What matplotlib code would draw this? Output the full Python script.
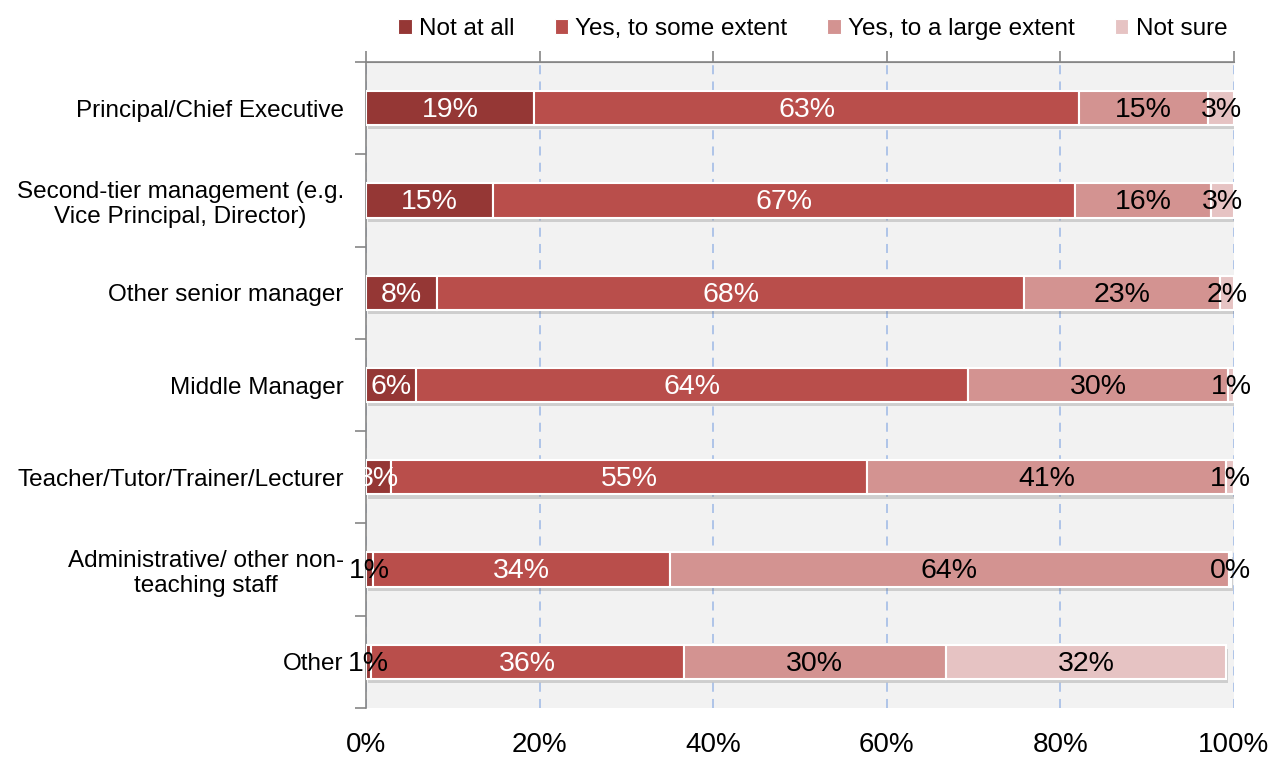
import matplotlib.pyplot as plt
import matplotlib.patheffects as pe
import matplotlib.ticker as ticker
from matplotlib.patches import Patch
import numpy as np

plt.rcParams['font.family'] = ['Liberation Sans', 'DejaVu Sans']

# categories (top to bottom) and answer shares, %
roles = ["Principal/Chief Executive",
         "Second-tier management (e.g.\nVice Principal, Director)",
         "Other senior manager",
         "Middle Manager",
         "Teacher/Tutor/Trainer/Lecturer",
         "Administrative/ other non-\nteaching staff",
         "Other"]
answers = ["Not at all", "Yes, to some extent", "Yes, to a large extent", "Not sure"]
not_at_all = [19.4, 14.6, 8.2, 5.8, 2.9, 0.8, 0.6]
some_extent = [62.7, 67.1, 67.6, 63.6, 54.8, 34.2, 36.0]
large_extent = [14.9, 15.7, 22.6, 29.9, 41.4, 64.4, 30.2]
not_sure = [3.0, 2.6, 1.6, 0.7, 0.9, 0.3, 32.3]
xticks = [0, 20, 40, 60, 80, 100]

colors = ['#953735', '#b94e4b', '#d39391', '#e6c3c3']

series = [not_at_all, some_extent, large_extent, not_sure]
y = np.arange(len(roles))

fig = plt.figure(figsize=(12.74, 7.62), dpi=100)
ax = fig.add_axes([0.2873, 0.0709, 0.6813, 0.8477])
ax.set_facecolor('#f2f2f2')

shadow = [pe.SimplePatchShadow(offset=(1.5, -3), shadow_rgbFace='#666666', alpha=0.25), pe.Normal()]

left = np.zeros(len(roles))
for i, vals in enumerate(series):
    vals = np.array(vals)
    bars = ax.barh(y, vals, left=left, height=0.37, color=colors[i],
                   edgecolor='white', linewidth=1.5, zorder=3)
    for b in bars:
        b.set_path_effects(shadow)
    for yy, v, l in zip(y, vals, left):
        c = 'white' if (i < 2 and v >= 2) else 'black'
        ax.text(l + v / 2, yy + 0.02, '%.0f%%' % v, ha='center', va='center',
                fontsize=20.5, color=c, zorder=5)
    left = left + vals

ax.set_xlim(0, 100)
ax.set_ylim(len(roles) - 0.5, -0.5)

# dashed vertical grid
ax.xaxis.set_major_locator(ticker.FixedLocator(xticks))
ax.xaxis.set_major_formatter(ticker.FuncFormatter(lambda v, p: '%d%%' % v))
ax.grid(axis='x', color='#a9c1e8', linestyle=(0, (5, 4)), linewidth=1.3, zorder=0)
ax.set_axisbelow(True)
ax.tick_params(axis='x', length=0, pad=17, labelsize=20)

# category labels and separators on the left
ax.set_yticks(y)
ax.set_yticklabels(roles, multialignment='center')
ax.yaxis.set_minor_locator(ticker.FixedLocator(np.arange(-0.5, len(roles), 1)))
ax.tick_params(axis='y', which='major', length=0, pad=16, labelsize=17.5)
ax.tick_params(axis='y', which='minor', length=8, color='#868686', width=1.2)

for s in ['right', 'bottom']:
    ax.spines[s].set_visible(False)
for s in ['left', 'top']:
    ax.spines[s].set_color('#868686')
    ax.spines[s].set_linewidth(1.2)

top = ax.secondary_xaxis('top')
top.set_xticks(xticks)
top.set_xticklabels([])
top.tick_params(length=8, color='#868686', width=1.2)
top.spines['top'].set_color('#868686')

handles = [Patch(facecolor=c, edgecolor='white', linewidth=0.8) for c in colors]
ax.legend(handles, answers, loc='center', bbox_to_anchor=(0.638, 0.962),
          bbox_transform=fig.transFigure, ncol=4, frameon=False, fontsize=17.5,
          handlelength=0.55, handleheight=0.55, handletextpad=0.3, columnspacing=1.65)

plt.savefig('out.png', dpi=100)
